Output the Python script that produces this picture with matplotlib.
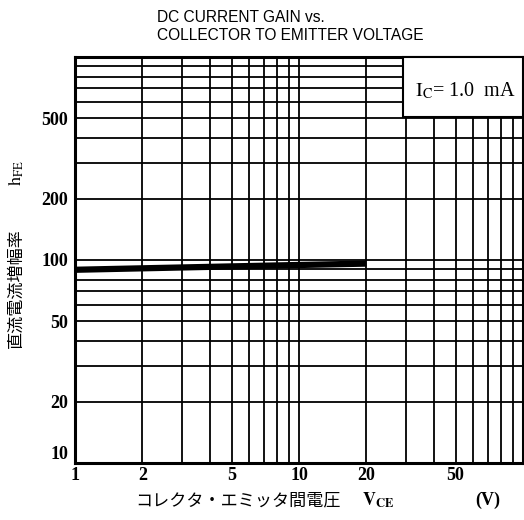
import matplotlib
matplotlib.use("Agg")
import matplotlib.pyplot as plt
from matplotlib.patches import Rectangle

# data
vce = [1, 2, 5, 10, 20]
hfe = [89.5, 91, 93, 94.5, 96]
xtick_vals = [1, 2, 5, 10, 20, 50]
xtick_labels = ["1", "2", "5", "10", "20", "50"]
ytick_vals = [10, 20, 50, 100, 200, 500]
ytick_labels = ["10", "20", "50", "100", "200", "500"]
grid_x = [m * d for d in (1, 10) for m in range(1, 10)] + [100]
grid_y = [m * d for d in (10, 100) for m in range(1, 10)] + [1000]

plt.rcParams['mathtext.fontset'] = 'stix'

fig = plt.figure(figsize=(5.24, 5.20), dpi=100)
W, H = 524, 520
left, right, top, bottom = 75, 523, 57, 463
ax = fig.add_axes([left / W, 1 - bottom / H, (right - left) / W, (bottom - top) / H])
ax.set_xscale('log')
ax.set_yscale('log')
ax.set_xlim(1, 100)
ax.set_ylim(10, 1000)

ax.set_xticks(grid_x, minor=True)
ax.set_yticks(grid_y, minor=True)
ax.set_xticks(xtick_vals)
ax.set_xticklabels(xtick_labels)
ax.set_yticks(ytick_vals)
ax.set_yticklabels(ytick_labels)
ax.xaxis.set_minor_formatter(matplotlib.ticker.NullFormatter())
ax.yaxis.set_minor_formatter(matplotlib.ticker.NullFormatter())
ax.tick_params(which='both', length=0)
ax.tick_params(axis='x', pad=3)
ax.tick_params(axis='y', pad=5)
for lab in ax.get_xticklabels() + ax.get_yticklabels():
    lab.set_fontfamily('Liberation Serif')
    lab.set_fontweight('bold')
    lab.set_fontsize(13)
ax.get_yticklabels()[0].set_verticalalignment('bottom')

ax.grid(which='both', color='black', linewidth=1.3)
ax.set_axisbelow(True)
for s in ax.spines.values():
    s.set_linewidth(2.2)

ax.plot(vce, hfe, color='black', linewidth=4.5, solid_capstyle='butt', zorder=3)

# legend box
bx0 = (403 - left) / (right - left)
by0 = (bottom - 117) / (bottom - top)
ax.add_patch(Rectangle((bx0, by0), 1 - bx0, 1 - by0, transform=ax.transAxes,
                       facecolor='white', edgecolor='black', linewidth=1.5, zorder=4,
                       clip_on=False))
ax.text((bx0 + 1) / 2 + 0.005, (by0 + 1) / 2 - 0.01, r"$\mathrm{I_C}$= 1.0  mA",
        transform=ax.transAxes, ha='center', va='center', fontsize=14.5,
        family='Liberation Serif', zorder=5)

# title
fig.text(157 / W, 1 - 10 / H, "DC CURRENT GAIN vs.\nCOLLECTOR TO EMITTER VOLTAGE",
         ha='left', va='top', fontsize=11.2, family='Liberation Sans', linespacing=1.25)

# x axis label
cjk = ['Noto Sans CJK JP', 'DejaVu Sans']
fig.text(135 / W, 1 - 500 / H, "コレクタ・エミッタ間電圧",
         ha='left', va='center', fontsize=12.3, family=cjk)
fig.text(362 / W, 1 - 500 / H, r"$\mathbf{V_{CE}}$",
         ha='left', va='center', fontsize=13)
fig.text(475 / W, 1 - 500 / H, "(V)",
         ha='left', va='center', fontsize=13, family='Liberation Serif', fontweight='bold')

# y axis label
fig.text(16 / W, 1 - 288 / H, "直流電流増幅率",
         ha='center', va='center', rotation=90, fontsize=12.3, family=cjk)
fig.text(16 / W, 1 - 173 / H, r"$\mathrm{h_{FE}}$",
         ha='center', va='center', rotation=90, fontsize=13)

fig.savefig("out.png", dpi=100)
